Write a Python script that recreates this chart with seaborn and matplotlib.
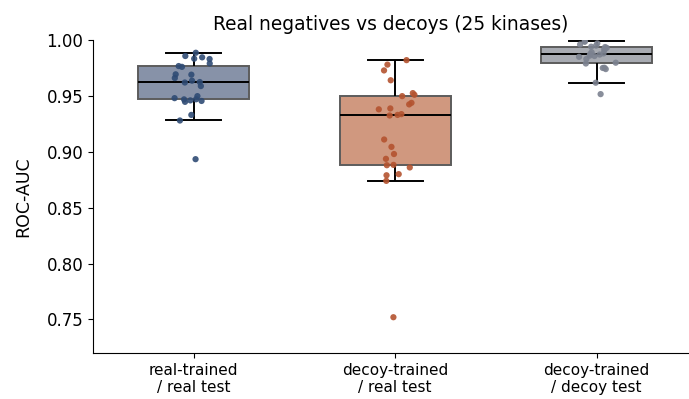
import numpy as np
import pandas as pd
import matplotlib
matplotlib.use("Agg")
import matplotlib.pyplot as plt
import seaborn as sns

# ROC-AUC per kinase for each train/test setting
categories = ["real-trained\n/ real test", "decoy-trained\n/ real test", "decoy-trained\n/ decoy test"]

real_real = [0.9886, 0.9845, 0.9857, 0.9833, 0.9830, 0.9790, 0.9767, 0.9760, 0.9693,
             0.9690, 0.9660, 0.9636, 0.9624, 0.9620, 0.9588, 0.9498, 0.9480, 0.9470,
             0.9469, 0.9460, 0.9447, 0.9455, 0.9330, 0.9280, 0.8934]
decoy_real = [0.9820, 0.9780, 0.9728, 0.9640, 0.9525, 0.9510, 0.9498, 0.9438, 0.9424,
              0.9388, 0.9380, 0.9337, 0.9330, 0.9325, 0.9110, 0.9044, 0.8980, 0.8937,
              0.8880, 0.8883, 0.8860, 0.8800, 0.8790, 0.8740, 0.7520]
decoy_decoy = [0.9988, 0.9985, 0.9970, 0.9960, 0.9950, 0.9940, 0.9937, 0.9930, 0.9920,
               0.9910, 0.9890, 0.9880, 0.9875, 0.9870, 0.9860, 0.9857, 0.9850, 0.9830,
               0.9797, 0.9790, 0.9752, 0.9750, 0.9740, 0.9618, 0.9516]

box_fill = ["#8792a8", "#d0987f", "#a8abb2"]
point_col = ["#2f4b74", "#b4532f", "#7c8290"]

df = pd.DataFrame({
    "setting": np.repeat(categories, 25),
    "auc": real_real + decoy_real + decoy_decoy,
})

plt.rcParams["font.family"] = ["DejaVu Sans"]

fig = plt.figure(figsize=(6.89, 3.99), dpi=100)
ax = fig.add_axes([0.135, 0.1153, 0.865, 0.7844])

sns.boxplot(data=df, x="setting", y="auc", hue="setting", palette=box_fill,
            order=categories, width=0.55, saturation=1, showfliers=False,
            linecolor="#5c5c5c", linewidth=1.4, legend=False, ax=ax,
            medianprops=dict(color="black", linewidth=1.4),
            whiskerprops=dict(color="black", linewidth=1.4),
            capprops=dict(color="black", linewidth=1.4))

# fixed seed so the horizontal jitter is reproducible
np.random.seed(3)
sns.stripplot(data=df, x="setting", y="auc", hue="setting", palette=point_col,
              order=categories, jitter=0.1, size=4.5, alpha=0.9, legend=False,
              ax=ax)

ax.set_xlim(-0.5, 2.458)
ax.set_ylim(0.72, 1.0)
ax.set_yticks([0.75, 0.80, 0.85, 0.90, 0.95, 1.00])
ax.set_yticklabels([f"{v:.2f}" for v in [0.75, 0.80, 0.85, 0.90, 0.95, 1.00]])
ax.tick_params(axis="y", labelsize=12)
ax.tick_params(axis="x", labelsize=11)
ax.set_xlabel("")
ax.set_ylabel("ROC-AUC", fontsize=12.5, labelpad=10)
ax.set_title("Real negatives vs decoys (25 kinases)", fontsize=13.4, pad=7)
sns.despine(ax=ax)

fig.savefig("out.png", dpi=100)
